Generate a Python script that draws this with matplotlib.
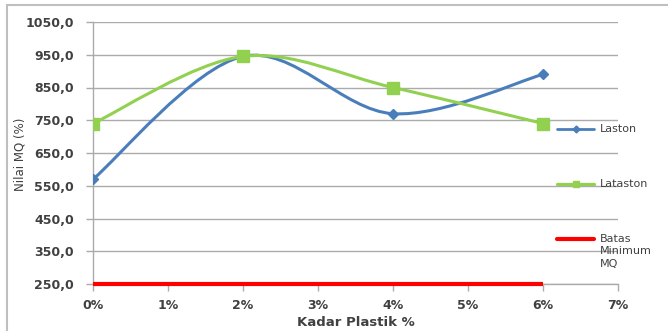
import numpy as np
import matplotlib
matplotlib.use("Agg")
import matplotlib.pyplot as plt
from matplotlib.path import Path
from matplotlib.patches import PathPatch, Rectangle
from matplotlib.lines import Line2D

# Data
kadar = [0, 2, 4, 6]                     # Kadar Plastik (%)
laston = [570, 945, 770, 890]            # Nilai MQ, Laston
lataston = [740, 945, 850, 740]          # Nilai MQ, Lataston
batas_x = [0, 6]
batas_min = [250, 250]                   # Batas Minimum MQ
x_ticks = [0, 1, 2, 3, 4, 5, 6, 7]
y_ticks = [250, 350, 450, 550, 650, 750, 850, 950, 1050]

BLUE = "#4A7EBB"
GREEN = "#92D050"
RED = "#FF0000"
GRID = "#ABABAB"
TEXT = "#404040"


def smooth_path(xs, ys):
    """Cubic Bezier path through the points (spreadsheet-style smoothed line)."""
    pts = np.column_stack([xs, ys]).astype(float)
    n = len(pts)
    verts = [pts[0]]
    codes = [Path.MOVETO]
    for i in range(n - 1):
        p_prev = pts[i - 1] if i > 0 else pts[i]
        p0, p1 = pts[i], pts[i + 1]
        p_next = pts[i + 2] if i + 2 < n else pts[i + 1]
        c1 = p0 + (p1 - p_prev) / 6.0
        c2 = p1 - (p_next - p0) / 6.0
        verts += [c1, c2, p1]
        codes += [Path.CURVE4] * 3
    return Path(verts, codes)


fig = plt.figure(figsize=(6.68, 3.31), dpi=100)
fig.patch.set_facecolor("white")

# outer chart frame
fig.patches.append(Rectangle((7 / 668, -0.05), 1.1, 1 - 5 / 331 + 0.05,
                             transform=fig.transFigure, fill=False,
                             edgecolor="#BFBFBF", linewidth=1.5))

ax = fig.add_axes([93 / 668, 1 - 284 / 331, 525 / 668, 262 / 331])
ax.set_xlim(0, 7)
ax.set_ylim(250, 1050)

for s in ["top", "right"]:
    ax.spines[s].set_visible(False)
ax.spines["left"].set_color(GRID)
ax.spines["bottom"].set_color(GRID)
ax.spines["left"].set_linewidth(1.0)
ax.spines["bottom"].set_linewidth(1.0)

ax.set_yticks(y_ticks)
ax.set_yticklabels([f"{v:.1f}".replace(".", ",") for v in y_ticks])
ax.set_xticks(x_ticks)
ax.set_xticklabels([f"{v}%" for v in x_ticks])
ax.tick_params(axis="both", colors=GRID, labelcolor=TEXT, labelsize=9,
               length=5, width=1.0)
ax.tick_params(axis="x", direction="out", pad=6)
ax.tick_params(axis="y", direction="out", pad=8.5)
for lbl in ax.get_xticklabels() + ax.get_yticklabels():
    lbl.set_fontweight("bold")
ax.grid(axis="y", color=GRID, linewidth=1.0)
ax.set_axisbelow(True)

# series
ax.add_patch(PathPatch(smooth_path(kadar, laston), fill=False,
                       edgecolor=BLUE, linewidth=2.2, zorder=3))
ax.plot(kadar, laston, linestyle="none", marker="D", markersize=5,
        color=BLUE, zorder=4)
ax.add_patch(PathPatch(smooth_path(kadar, lataston), fill=False,
                       edgecolor=GREEN, linewidth=2.2, zorder=3))
ax.plot(kadar, lataston, linestyle="none", marker="s", markersize=8,
        color=GREEN, zorder=4)
ax.plot(batas_x, batas_min, color=RED, linewidth=3, zorder=5,
        solid_capstyle="butt", clip_on=False)

ax.set_xlabel("Kadar Plastik %", fontsize=9.5, fontweight="bold", color=TEXT,
              labelpad=3)
fig.text(20 / 668, 1 - 154 / 331, "Nilai MQ (%)", rotation=90, fontsize=8.5,
         color=TEXT, ha="center", va="center")


# legend
def fx(px):
    return px / 668


def fy(py):
    return 1 - py / 331


legend_items = [
    (129, BLUE, "D", 3.5, 2.0, "Laston"),
    (184, GREEN, "s", 5, 2.3, "Lataston"),
    (239, RED, None, 0, 3.0, "Batas\nMinimum\nMQ"),
]
for py, col, mk, ms, lw, label in legend_items:
    fig.add_artist(Line2D([fx(557), fx(594)], [fy(py), fy(py)], color=col,
                          linewidth=lw, transform=fig.transFigure,
                          solid_capstyle="round"))
    if mk:
        fig.add_artist(Line2D([fx(575.5)], [fy(py)], marker=mk, markersize=ms,
                              color=col, transform=fig.transFigure))
    if "\n" in label:
        fig.text(fx(600), fy(py - 5), label, fontsize=8, color=TEXT,
                 ha="left", va="top", linespacing=1.3)
    else:
        fig.text(fx(600), fy(py), label, fontsize=8, color=TEXT,
                 ha="left", va="center")

fig.savefig("out.png", dpi=100, facecolor="white")
